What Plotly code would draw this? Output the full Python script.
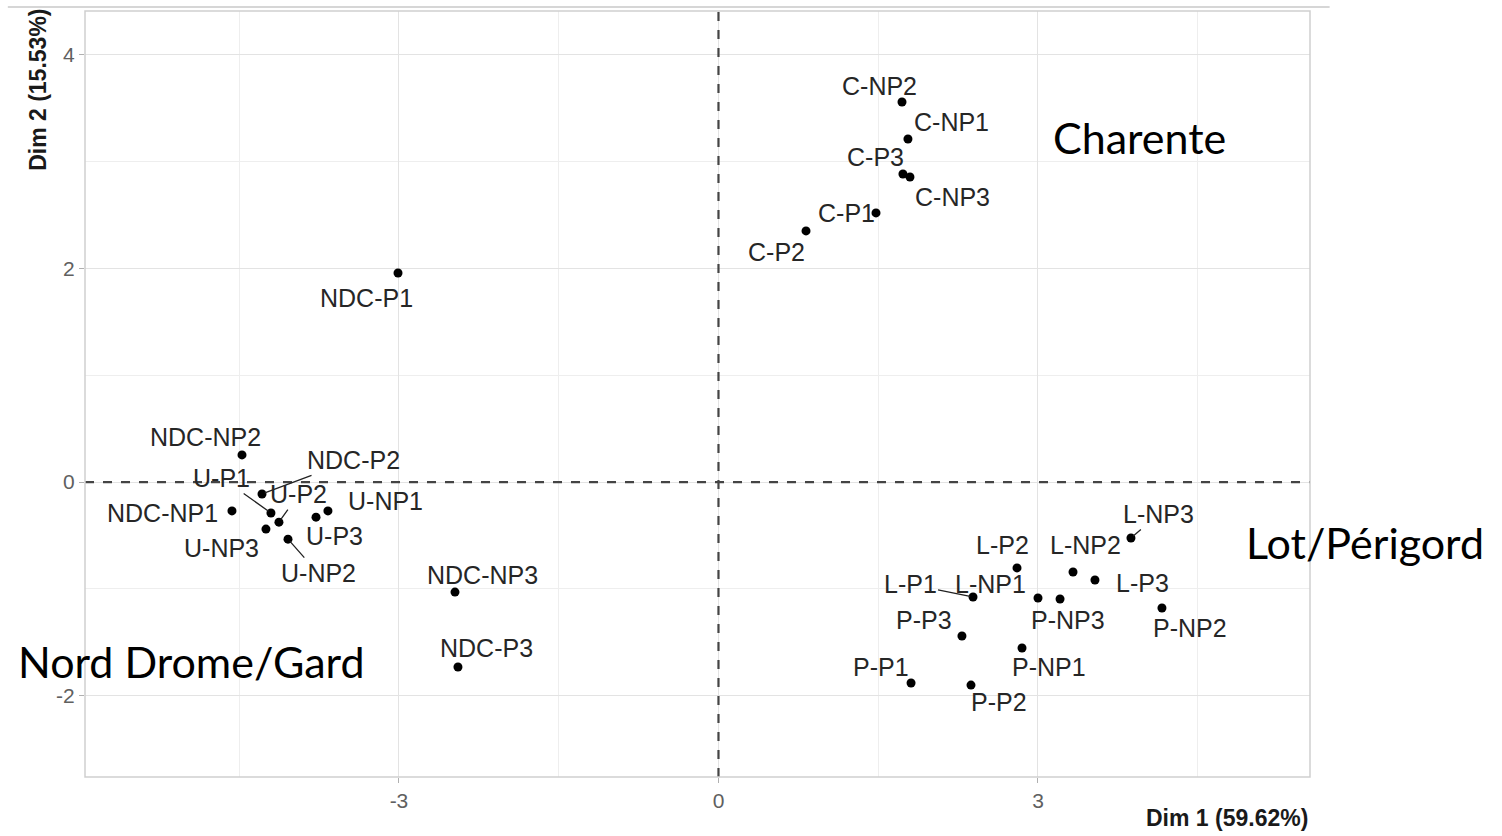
import plotly.graph_objects as go

# PCA individuals (coordinates on the first two dimensions)
labels = ["C-NP2", "C-NP1", "C-P3", "C-NP3", "C-P1", "C-P2",
          "NDC-P1", "NDC-NP2", "NDC-P2", "U-P1", "NDC-NP1", "U-P2",
          "U-NP3", "U-NP2", "U-P3", "U-NP1", "NDC-NP3", "NDC-P3",
          "L-NP3", "L-P2", "L-NP2", "L-P3", "L-P1", "L-NP1",
          "P-NP3", "P-NP2", "P-P3", "P-NP1", "P-P1", "P-P2"]
dim1 = [1.723, 1.779, 1.732, 1.798, 1.479, 0.822,
        -3.009, -4.474, -4.286, -4.202, -4.568, -4.127,
        -4.249, -4.042, -3.779, -3.667, -2.474, -2.446,
        3.873, 2.803, 3.329, 3.535, 2.390, 3.000,
        3.207, 4.164, 2.286, 2.850, 1.808, 2.371]
dim2 = [3.556, 3.210, 2.882, 2.854, 2.518, 2.350,
        1.956, 0.254, -0.111, -0.289, -0.270, -0.375,
        -0.440, -0.534, -0.328, -0.270, -1.029, -1.730,
        -0.523, -0.803, -0.841, -0.916, -1.075, -1.084,
        -1.094, -1.178, -1.440, -1.552, -1.880, -1.899]

x_title = "Dim 1 (59.62%)"
y_title = "Dim 2 (15.53%)"
x_ticks = [-3, 0, 3]
x_ticktext = ["-3", "0", "3"]
y_ticks = [-2, 0, 2, 4]
y_ticktext = ["-2", "0", "2", "4"]

regions = ["Charente", "Lot/Périgord", "Nord Drome/Gard"]

# label placement (pixel offsets of the text from its point)
label_shift = {
    "C-NP2": (-22, -16), "C-NP1": (44, -17), "C-P3": (-27, -17),
    "C-NP3": (43, 20), "C-P1": (-30, 0), "C-P2": (-30, 21),
    "NDC-P1": (-32, 25), "NDC-NP2": (-36, -18), "NDC-P2": (91, -34),
    "U-P1": (-49, -35), "NDC-NP1": (-69, 2), "U-P2": (20, -28),
    "U-NP3": (-44, 19), "U-NP2": (30, 34), "U-P3": (18, 19),
    "U-NP1": (58, -10), "NDC-NP3": (28, -17), "NDC-P3": (29, -19),
    "L-NP3": (28, -24), "L-P2": (-15, -23), "L-NP2": (12, -27),
    "L-P3": (48, 3), "L-P1": (-63, -13), "L-NP1": (-47, -14),
    "P-NP3": (8, 21), "P-NP2": (28, 20), "P-P3": (-38, -16),
    "P-NP1": (27, 19), "P-P1": (-30, -16), "P-P2": (28, 17),
}
with_segment = {"NDC-P2", "U-P1", "U-P2", "U-NP2", "L-NP3", "L-P1"}

fig = go.Figure()

fig.add_trace(go.Scatter(
    x=dim1, y=dim2, mode="markers",
    marker=dict(color="black", size=9),
    hovertext=labels, hoverinfo="text", showlegend=False,
))

annotations = []
for name, xv, yv in zip(labels, dim1, dim2):
    dx, dy = label_shift[name]
    annotations.append(dict(
        x=xv, y=yv, xref="x", yref="y", text=name,
        showarrow=True, ax=dx, ay=dy, arrowhead=0, arrowwidth=1.3,
        arrowcolor="#222222" if name in with_segment else "rgba(0,0,0,0)",
        standoff=3,
        font=dict(family="Liberation Sans, Arial, sans-serif", size=25, color="#262626"),
    ))

# region names
region_pos = [(0.861, 0.8355), (1.045, 0.3055), (0.0873, 0.1505)]
for name, (px, py) in zip(regions, region_pos):
    annotations.append(dict(
        x=px, y=py, xref="paper", yref="paper", text=name, showarrow=False,
        xanchor="center", yanchor="middle", borderpad=0,
        font=dict(family="Lato, Open Sans, sans-serif", size=43, color="black"),
    ))

# axis titles
annotations.append(dict(
    x=1.0, y=-0.0535, xref="paper", yref="paper", text="<b>%s</b>" % x_title,
    showarrow=False, xanchor="right", yanchor="middle",
    font=dict(family="Liberation Sans, Arial, sans-serif", size=23, color="#1a1a1a"),
))
annotations.append(dict(
    x=-0.0384, y=0.897, xref="paper", yref="paper", text="<b>%s</b>" % y_title,
    showarrow=False, textangle=-90, xanchor="center", yanchor="middle",
    font=dict(family="Liberation Sans, Arial, sans-serif", size=23, color="#1a1a1a"),
))

shapes = [
    dict(type="line", xref="x", yref="paper", x0=0, x1=0, y0=0, y1=1,
         line=dict(color="#444444", width=2.2, dash="dash"), layer="above"),
    dict(type="line", xref="paper", yref="y", x0=0, x1=1, y0=0, y1=0,
         line=dict(color="#444444", width=2.2, dash="dash"), layer="above"),
    dict(type="rect", xref="paper", yref="paper", x0=0, x1=1, y0=0, y1=1,
         line=dict(color="#cfcfcf", width=1.5)),
    dict(type="line", xref="paper", yref="paper", x0=-0.063, x1=1.016,
         y0=1.0052, y1=1.0052, line=dict(color="#c8c8c8", width=1.5)),
]

axis_common = dict(
    showgrid=True, gridcolor="#e3e3e3", gridwidth=1.3,
    zeroline=False, showline=False,
    ticks="outside", ticklen=5, tickcolor="#b0b0b0", tickwidth=1,
    tickfont=dict(family="Liberation Sans, Arial, sans-serif", size=21, color="#606060"),
    minor=dict(showgrid=True, gridcolor="#eeeeee", gridwidth=1, ticks=""),
)

fig.update_layout(
    width=1502, height=836,
    margin=dict(l=85, r=192, t=11, b=59),
    paper_bgcolor="white", plot_bgcolor="white",
    xaxis=dict(range=[-5.948, 5.554], tickvals=x_ticks, ticktext=x_ticktext, **axis_common),
    yaxis=dict(range=[-2.759, 4.407], tickvals=y_ticks, ticktext=y_ticktext, **axis_common),
    annotations=annotations, shapes=shapes,
)
fig.update_xaxes(minor=dict(tickvals=[-4.5, -1.5, 1.5, 4.5]))
fig.update_yaxes(minor=dict(tickvals=[-1, 1, 3]))

fig.write_html("out.html")
